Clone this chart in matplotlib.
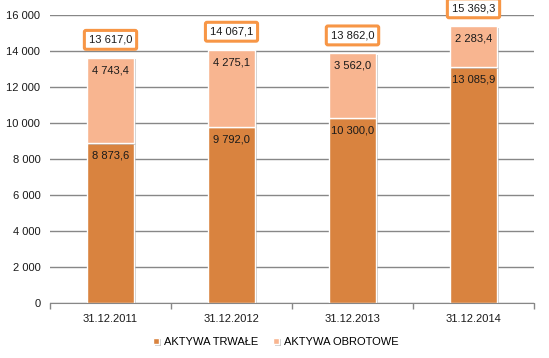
import matplotlib
matplotlib.use("Agg")
import matplotlib.pyplot as plt
import matplotlib.patheffects as pe
import numpy as np

plt.rcParams['font.family'] = ['Liberation Sans', 'DejaVu Sans']

dates = ['31.12.2011', '31.12.2012', '31.12.2013', '31.12.2014']
trwale = [8873.6, 9792.0, 10300.0, 13085.9]
obrotowe = [4743.4, 4275.1, 3562.0, 2283.4]
razem = [13617.0, 14067.1, 13862.0, 15369.3]
yticks = [0, 2000, 4000, 6000, 8000, 10000, 12000, 14000, 16000]


def fmt(v, dec=1):
    s = f"{v:,.{dec}f}"
    return s.replace(',', ' ').replace('.', ',')


dark = '#D9833F'
light = '#F8B590'

fig = plt.figure(figsize=(5.49, 3.58), dpi=100)
ax = fig.add_axes([50/549, 55/358, 484/549, 288/358])

x = np.arange(len(dates))
w = 0.39
shadow = [pe.SimplePatchShadow(offset=(1.5, -1), shadow_rgbFace='#999999', alpha=0.5), pe.Normal()]
b1 = ax.bar(x, trwale, w, color=dark, edgecolor='white', linewidth=1,
            label='AKTYWA TRWAŁE', zorder=3, path_effects=shadow)
b2 = ax.bar(x, obrotowe, w, bottom=trwale, color=light, edgecolor='white', linewidth=1,
            label='AKTYWA OBROTOWE', zorder=3, path_effects=shadow)

for i in range(len(dates)):
    ax.annotate(fmt(trwale[i]), (x[i], trwale[i]), xytext=(0, -9), textcoords='offset points',
                ha='center', va='center', fontsize=8, color='#1a1a1a', zorder=5)
    ax.annotate(fmt(obrotowe[i]), (x[i], trwale[i] + obrotowe[i]), xytext=(0, -9),
                textcoords='offset points', ha='center', va='center', fontsize=8,
                color='#1a1a1a', zorder=5)
    ax.annotate(fmt(razem[i]), (x[i], razem[i]), xytext=(0, 13), textcoords='offset points',
                ha='center', va='center', fontsize=8, color='#1a1a1a', zorder=5,
                bbox=dict(boxstyle='round,pad=0.4,rounding_size=0.15', fc='white',
                          ec='#F79646', lw=2.2))

ax.set_xlim(-0.5, len(dates) - 0.5)
ax.set_ylim(0, 16000)
ax.set_yticks(yticks)
ax.set_yticklabels([fmt(v, 0) for v in yticks], fontsize=8, color='#1a1a1a')
ax.set_xticks(x)
ax.set_xticklabels(dates, fontsize=8, color='#1a1a1a')
ax.set_xticks(np.arange(-0.5, len(dates)), minor=True)
ax.tick_params(axis='x', which='major', length=0, pad=8)
ax.tick_params(axis='x', which='minor', length=4, color='#878787', width=1)
ax.tick_params(axis='y', length=0, pad=7)
ax.grid(axis='y', color='#878787', linewidth=1, zorder=0)
for s in ['top', 'right', 'left']:
    ax.spines[s].set_visible(False)
ax.spines['bottom'].set_color('#878787')
ax.spines['bottom'].set_zorder(4)

fig.legend(handles=[b1, b2], loc='center', bbox_to_anchor=(276/549, 1 - 342/358), ncol=2,
           frameon=False, fontsize=8, handlelength=0.5, handleheight=0.5,
           handletextpad=0.5, columnspacing=1.3)

fig.savefig('out.png', dpi=100)
